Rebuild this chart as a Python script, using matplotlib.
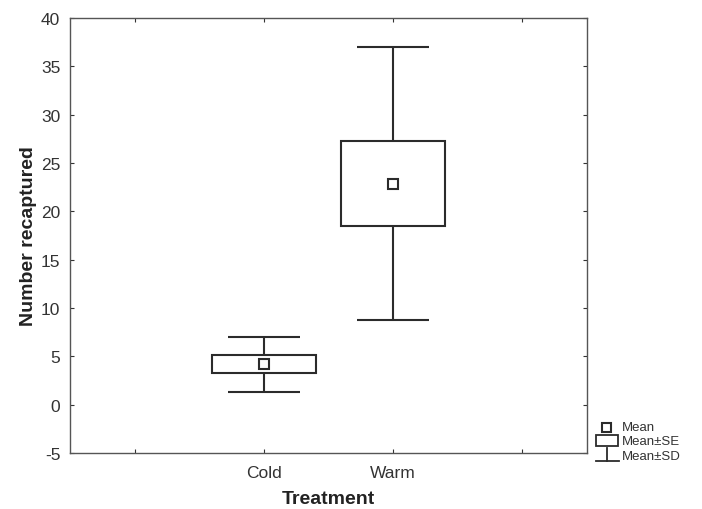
import matplotlib
matplotlib.use('Agg')
import matplotlib.pyplot as plt
from matplotlib.patches import Rectangle
from matplotlib.lines import Line2D

plt.rcParams['font.family'] = ['Liberation Sans', 'DejaVu Sans']
plt.rcParams['axes.unicode_minus'] = False

# data
groups = ['Cold', 'Warm']
means = [4.2, 22.85]
se = [0.95, 4.4]
sd = [2.85, 14.1]

dark = '#2b2b2b'
W, H = 702, 510


def px(x, y):
    return x / W, 1 - y / H


fig = plt.figure(figsize=(W / 100, H / 100), dpi=100)
ax = fig.add_axes([70 / W, 1 - 454 / H, (587 - 70) / W, (454 - 19) / H])

pos = [1, 2]
for x, m, s, d in zip(pos, means, se, sd):
    ax.add_patch(Rectangle((x - 0.4, m - s), 0.8, 2 * s, fill=False,
                           edgecolor=dark, lw=1.5))
    ax.vlines(x, m + s, m + d, color=dark, lw=1.5)
    ax.vlines(x, m - d, m - s, color=dark, lw=1.5)
    ax.hlines([m + d, m - d], x - 0.28, x + 0.28, color=dark, lw=1.5)
    ax.plot(x, m, marker='s', ms=6.5, mfc='white', mec=dark, mew=1.5)

ax.set_xlim(-0.5, 3.5)
ax.set_ylim(-5, 40)
ax.set_xticks([0, 1, 2, 3])
ax.set_xticklabels([''] + groups + [''])
ax.set_yticks(range(-5, 41, 5))
ax.tick_params(direction='in', length=3, width=0.8, top=True, right=True,
               labelsize=12.5, colors='#333333', pad=7)
ax.tick_params(axis='x', pad=9)
for sp in ax.spines.values():
    sp.set_color('#555555')
    sp.set_linewidth(1.0)

ax.set_xlabel('Treatment', fontsize=14, fontweight='bold', color='#222222', labelpad=7)
ax.set_ylabel('Number recaptured', fontsize=14, fontweight='bold', color='#222222', labelpad=3)

# legend drawn by hand, outside the axes
tf = fig.transFigure
x0, y0 = px(601.5, 423.5)
x1, y1 = px(610.5, 432.5)
fig.patches.append(Rectangle((x0, y1), x1 - x0, y0 - y1, fill=False,
                             edgecolor=dark, lw=1.5, transform=tf, figure=fig))
x0, y0 = px(596, 436)
x1, y1 = px(618, 447)
fig.patches.append(Rectangle((x0, y1), x1 - x0, y0 - y1, fill=False,
                             edgecolor=dark, lw=1.3, transform=tf, figure=fig))
for xs, ys in [((607, 607), (449, 462)), ((596, 619), (462, 462))]:
    a, b = px(xs[0], ys[0])
    c, d = px(xs[1], ys[1])
    fig.lines.append(Line2D([a, c], [b, d], color=dark, lw=1.3, transform=tf))
for label, yy in [('Mean', 428), ('Mean±SE', 442), ('Mean±SD', 457)]:
    tx, ty = px(622, yy)
    fig.text(tx, ty, label, fontsize=9.5, color='#333333', va='center', ha='left')

fig.savefig('out.png', dpi=100)
